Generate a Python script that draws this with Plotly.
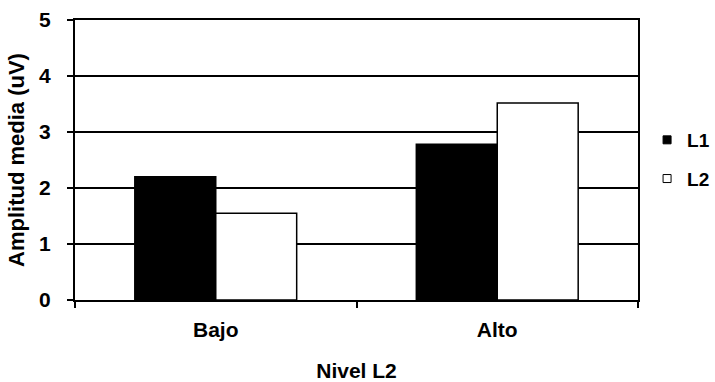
import plotly.graph_objects as go

# Mean amplitude by L2 level, for each language
categories = ["Bajo", "Alto"]
series_names = ["L1", "L2"]
l1_values = [2.2, 2.78]
l2_values = [1.55, 3.52]
y_ticks = [0, 1, 2, 3, 4, 5]

FONT = "Liberation Sans Narrow, Liberation Sans, Arial, sans-serif"
BLACK = "#000000"

fig = go.Figure()

fig.add_trace(go.Bar(
    x=categories, y=l1_values, name=series_names[0],
    marker=dict(color=BLACK, line=dict(color=BLACK, width=1.5)),
    showlegend=False,
))
fig.add_trace(go.Bar(
    x=categories, y=l2_values, name=series_names[1],
    marker=dict(color="#ffffff", line=dict(color=BLACK, width=1.5)),
    showlegend=False,
))

# small square swatches for the legend
for name, fill, grp in [(series_names[0], BLACK, "a"), (series_names[1], "#ffffff", "b")]:
    fig.add_trace(go.Scatter(
        x=[None], y=[None], mode="markers", name=name, legendgroup=grp,
        marker=dict(symbol="square", size=8, color=fill, line=dict(color=BLACK, width=1)),
    ))

fig.update_layout(
    width=715, height=382,
    margin=dict(l=75, r=77, t=20, b=82, autoexpand=False),
    paper_bgcolor="white", plot_bgcolor="white",
    barmode="group", bargap=0.425, bargroupgap=0,
    font=dict(family=FONT, size=20, color=BLACK),
    legend=dict(
        xref="container", yref="container",
        x=0.905, xanchor="left", y=0.5825, yanchor="middle",
        font=dict(family=FONT, size=19, color=BLACK, weight="bold"),
        tracegroupgap=11, traceorder="grouped", itemsizing="trace",
        bgcolor="rgba(0,0,0,0)",
    ),
    showlegend=True,
)

fig.update_xaxes(
    automargin=False,
    showline=True, linecolor=BLACK, linewidth=2, mirror=True,
    ticks="outside", tickson="boundaries", ticklen=6, tickwidth=1.5, tickcolor=BLACK,
    tickfont=dict(family=FONT, size=21, color=BLACK, weight="bold"),
    ticklabelstandoff=10,
    title=dict(text="Nivel L2", standoff=26,
               font=dict(family=FONT, size=21, color=BLACK, weight="bold")),
    showgrid=False,
)
fig.update_yaxes(
    automargin=False,
    range=[0, 5], tickvals=y_ticks,
    showline=True, linecolor=BLACK, linewidth=2, mirror=True,
    ticks="outside", ticklen=6, tickwidth=1.5, tickcolor=BLACK,
    tickfont=dict(family=FONT, size=21, color=BLACK, weight="bold"),
    ticklabelstandoff=12,
    showgrid=True, gridcolor=BLACK, gridwidth=1.5,
    zeroline=False,
    title=dict(text="Amplitud media (uV)", standoff=8,
               font=dict(family=FONT, size=22, color=BLACK, weight="bold")),
)

fig.write_html("out.html")
